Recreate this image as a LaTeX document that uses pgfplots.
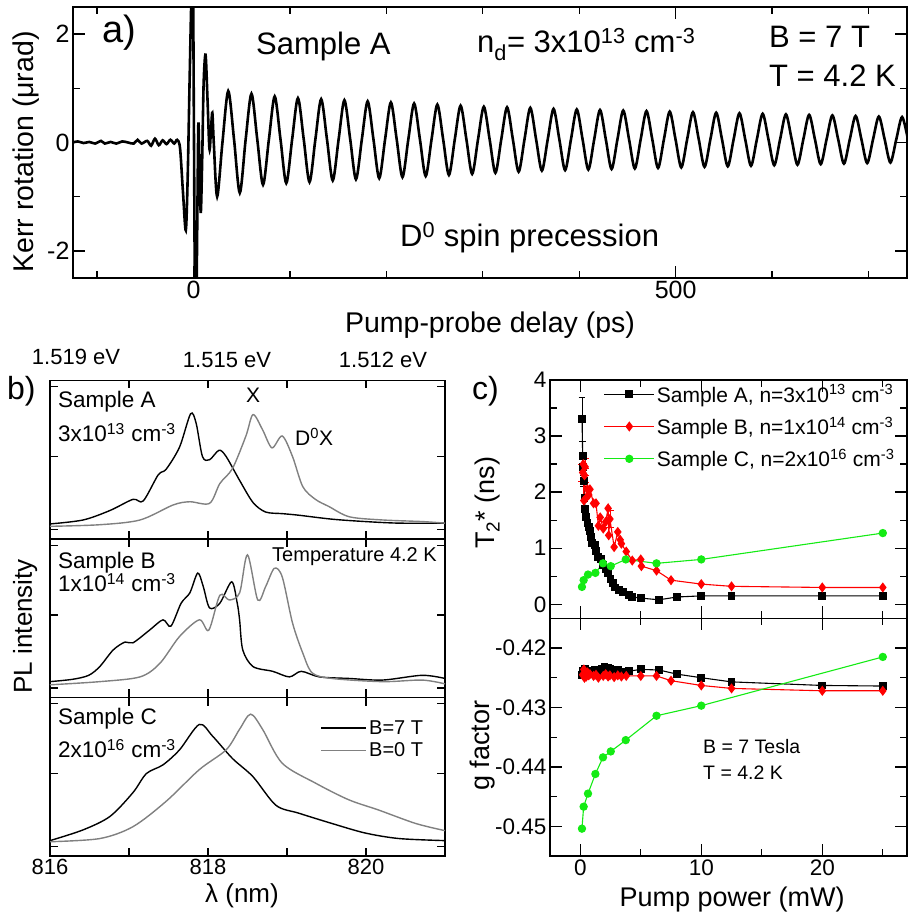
\documentclass[border=0pt]{standalone}
\usepackage{pgfplots}
\pgfplotsset{compat=1.18}
\usepackage{fontspec}
\setmainfont{Liberation Sans}
\newcommand{\fs}[1]{\fontsize{#1}{#1}\selectfont}
\definecolor{pgray}{RGB}{128,128,128}
\definecolor{pgreen}{RGB}{20,235,20}
\pgfplotsset{
  every axis/.append style={
    scale only axis,
    axis line style={line width=1.5pt},
    major tick style={line width=1.3pt,black},
    minor tick style={line width=1.3pt,black},
    major tick length=12pt, minor tick length=7pt,
    /pgf/number format/assume math mode=true,
    scaled ticks=false,
  },
}
\begin{document}
\begin{tikzpicture}
\useasboundingbox (0pt,0pt) rectangle (908pt,918pt);

% ---------- a) Kerr rotation
\begin{axis}[at={(73pt,640pt)}, anchor=south west, width=834pt, height=271pt,
  xmin=-125, xmax=740, ymin=-2.5, ymax=2.5,
  xtick={0,500}, minor xtick={-100,100,200,300,400,600,700},
  ytick={-2,0,2}, minor ytick={-1,1},
  tick label style={font=\fs{25}},
  xlabel={Pump-probe delay (ps)}, ylabel={Kerr rotation (μrad)},
  label style={font=\fs{28.5}},
  xlabel style={at={(axis description cs:0.5,-0.173)},anchor=center},
  ylabel style={at={(axis description cs:-0.056,0.465)},anchor=center},
]
\addplot[black, line width=2.6pt, smooth, tension=0.5] coordinates {
(-125,0.00)(-120,0.02)(-114,-0.01)(-108,0.01)(-102,-0.02)(-96,0.03)(-92,-0.02)(-86,0.01)
(-80,-0.02)(-74,0.02)(-68,0.00)(-62,-0.02)(-58,0.05)(-54,-0.02)(-48,0.03)(-44,-0.06)
(-40,0.07)(-36,-0.05)(-32,0.04)(-28,-0.03)(-24,0.05)(-20,-0.02)(-17,0.05)(-14,-0.1)
(-11,-0.9)(-8,-1.62)(-6,-0.6)(-4,1.2)(-2,2.8)(-0.5,2.8)(0.5,0)(1.5,-2.8)(3,-2.8)(4,-1.3)
(5,0.35)(6,-0.3)(7.5,-1.3)(9,-0.3)(10.5,1.1)(12.5,1.62)(14.5,0.8)(16.5,-0.12)(18,0.2)
(19.5,0.55)(21,0.0)(24.5,-1.0)(30,0.0)
(36,0.95)(42,0.06)(48,-0.93)(54.1,0.06)
(60.1,0.90)(66.1,0.06)(72.1,-0.78)(78.2,0.06)
(84.2,0.85)(90.2,0.06)(96.2,-0.75)(102.3,0.06)
(108.3,0.82)(114.3,0.06)(120.3,-0.73)(126.4,0.06)
(132.4,0.80)(138.4,0.06)(144.4,-0.70)(150.5,0.06)
(156.5,0.78)(162.5,0.06)(168.5,-0.68)(174.6,0.06)
(180.6,0.76)(186.6,0.06)(192.6,-0.66)(198.7,0.06)
(204.7,0.74)(210.7,0.06)(216.7,-0.64)(222.8,0.06)
(228.8,0.72)(234.8,0.06)(240.8,-0.62)(246.9,0.06)
(252.9,0.70)(258.9,0.06)(264.9,-0.60)(271.0,0.06)
(277.0,0.68)(283.0,0.06)(289.0,-0.58)(295.1,0.06)
(301.1,0.66)(307.1,0.06)(313.1,-0.56)(319.2,0.06)
(325.2,0.65)(331.2,0.06)(337.2,-0.54)(343.3,0.06)
(349.3,0.64)(355.3,0.06)(361.3,-0.52)(367.4,0.06)
(373.4,0.62)(379.4,0.06)(385.4,-0.51)(391.5,0.06)
(397.5,0.61)(403.5,0.06)(409.5,-0.50)(415.6,0.06)
(421.6,0.60)(427.6,0.06)(433.6,-0.49)(439.7,0.06)
(445.7,0.59)(451.7,0.06)(457.7,-0.48)(463.8,0.06)
(469.8,0.58)(475.8,0.06)(481.8,-0.47)(487.9,0.06)
(493.9,0.57)(499.9,0.06)(505.9,-0.46)(512.0,0.06)
(518.0,0.56)(524.0,0.06)(530.0,-0.45)(536.1,0.06)
(542.1,0.55)(548.1,0.06)(554.1,-0.44)(560.2,0.06)
(566.2,0.54)(572.2,0.06)(578.2,-0.43)(584.3,0.06)
(590.3,0.53)(596.3,0.06)(602.3,-0.42)(608.4,0.06)
(614.4,0.52)(620.4,0.06)(626.4,-0.41)(632.5,0.06)
(638.5,0.51)(644.5,0.06)(650.5,-0.40)(656.6,0.06)
(662.6,0.50)(668.6,0.06)(674.6,-0.39)(680.7,0.06)
(686.7,0.49)(692.7,0.06)(698.7,-0.38)(704.8,0.06)
(710.8,0.48)(716.8,0.06)(722.8,-0.37)(728.9,0.06)
(734.9,0.47)(740.9,0.06)
};
\end{axis}

% ---------- b) PL spectra
\pgfplotsset{pbstyle/.style={anchor=south west, width=395pt, height=158.5pt,
  xmin=816, xmax=821, ymin=0, ymax=1, xtick={816,817,818,819,820,821},
  xticklabel=\empty, ytick={0.06,0.52,0.96}, yticklabel=\empty,
  major tick length=8pt, tick label style={font=\fs{22}}}}
\begin{axis}[pbstyle, at={(50pt,379pt)}]
\addplot[black, line width=1.4pt, smooth] coordinates {
(816.00,0.095)(816.42,0.12)(816.76,0.18)(817.05,0.25)(817.18,0.24)(817.37,0.405)(817.47,0.44)
(817.64,0.58)(817.78,0.79)(817.85,0.73)(817.93,0.52)(818.02,0.50)(818.14,0.56)(818.23,0.52)
(818.40,0.37)(818.57,0.23)(818.73,0.17)(818.94,0.16)(819.15,0.15)(819.57,0.125)(819.99,0.11)
(820.42,0.10)(821.00,0.10)};
\addplot[pgray, line width=1.4pt, smooth] coordinates {
(816.00,0.08)(816.63,0.09)(817.14,0.12)(817.56,0.215)(817.77,0.235)(818.02,0.225)(818.15,0.35)
(818.31,0.445)(818.48,0.65)(818.57,0.785)(818.69,0.69)(818.81,0.575)(818.94,0.65)(819.07,0.52)
(819.20,0.33)(819.36,0.25)(819.53,0.205)(819.79,0.14)(820.21,0.12)(820.71,0.11)(821.00,0.10)};
\end{axis}
\begin{axis}[pbstyle, at={(50pt,220.5pt)},
  ylabel={PL intensity}, label style={font=\fs{26}},
  ylabel style={at={(axis description cs:-0.063,0.45)},anchor=center}]
\addplot[black, line width=1.4pt, smooth] coordinates {
(816.00,0.10)(816.29,0.115)(816.49,0.14)(816.63,0.195)(816.80,0.30)(816.95,0.35)(817.05,0.345)
(817.26,0.425)(817.43,0.49)(817.53,0.45)(817.66,0.595)(817.77,0.66)(817.87,0.785)(817.94,0.70)
(818.02,0.565)(818.15,0.595)(818.30,0.73)(818.37,0.595)(818.40,0.49)(818.44,0.30)(818.57,0.195)
(818.82,0.165)(819.03,0.13)(819.18,0.165)(819.41,0.13)(819.79,0.12)(820.21,0.11)(820.71,0.14)
(821.00,0.12)};
\addplot[pgray, line width=1.4pt, smooth] coordinates {
(816.00,0.08)(816.63,0.10)(817.14,0.13)(817.39,0.215)(817.64,0.385)(817.89,0.49)(818.01,0.425)
(818.15,0.645)(818.27,0.615)(818.40,0.66)(818.50,0.90)(818.63,0.615)(818.73,0.70)(818.84,0.815)
(818.94,0.76)(819.07,0.47)(819.20,0.28)(819.32,0.155)(819.57,0.12)(820.21,0.10)(820.71,0.11)
(821.00,0.086)};
\end{axis}
\begin{axis}[pbstyle, at={(50pt,62pt)},
  xticklabels={816,,818,,820,},
  xlabel={λ (nm)}, label style={font=\fs{26}},
  xlabel style={at={(axis description cs:0.486,-0.252)},anchor=center},
  legend style={at={(axis description cs:0.685,0.87)}, anchor=north west,
    draw=none, fill=none, font=\fs{20}, row sep=3pt, inner sep=0pt},
  legend cell align=left,
  legend image code/.code={\draw[#1] (0pt,0pt) -- (45pt,0pt);}]
\addplot[black, line width=1.4pt, smooth] coordinates {
(816.00,0.097)(816.42,0.165)(816.76,0.25)(817.05,0.40)(817.22,0.52)(817.43,0.575)(817.64,0.67)
(817.89,0.83)(818.06,0.755)(818.31,0.615)(818.57,0.50)(818.86,0.32)(819.15,0.27)(819.57,0.205)
(819.99,0.145)(820.42,0.11)(821.00,0.097)};
\addlegendentry{B=7 T}
\addplot[pgray, line width=1.4pt, smooth] coordinates {
(816.00,0.09)(816.63,0.11)(817.05,0.185)(817.47,0.345)(817.89,0.545)(818.23,0.67)(818.40,0.80)
(818.54,0.895)(818.69,0.80)(818.94,0.585)(819.36,0.46)(819.78,0.355)(820.16,0.29)(820.63,0.205)
(821.00,0.16)};
\addlegendentry{B=0 T}
\end{axis}

% ---------- c) T2* and g factor
\begin{axis}[at={(550pt,299.7pt)}, anchor=south west, width=357pt, height=238.3pt,
  xmin=-2.5, xmax=27, ymin=-0.25, ymax=4,
  xtick={0,10,20}, minor xtick={5,15,25}, xticklabel=\empty,
  ytick={0,1,2,3,4}, minor ytick={0.5,1.5,2.5,3.5},
  tick label style={font=\fs{22.5}},
  ylabel={T\textsubscript{2}* (ns)}, label style={font=\fs{27}},
  ylabel style={at={(axis description cs:-0.174,0.484)},anchor=center},
  legend style={at={(axis description cs:0.15,0.99)}, anchor=north west,
    draw=none, fill=none, font=\fs{21}, row sep=9pt, inner sep=0pt},
  legend cell align=left,
  legend image code/.code={\draw[mark repeat=2,mark phase=2,#1] plot coordinates {(0pt,0pt) (25pt,0pt) (50pt,0pt)};}]
\addplot[black, line width=1.1pt, mark=square*, mark size=3.4pt,
  error bars/.cd, y dir=both, y explicit] coordinates {
(0.15,3.3) +- (0,0.4) (0.2,2.65) +- (0,0.25) (0.25,2.45) +- (0,0.15) (0.3,2.2) +- (0,0.1)
(0.35,1.9) (0.4,1.7) (0.5,1.55) (0.6,1.45) (0.7,1.38) (0.8,1.3) (0.9,1.2) (1.0,1.1) (1.2,1.05)
(1.3,0.95) (1.5,0.85) (1.7,0.8) (1.9,0.7) (2.1,0.63) (2.3,0.55) (2.5,0.45) (2.7,0.38) (2.9,0.3)
(3.2,0.25) (3.5,0.22) (4.0,0.17) (4.3,0.13) (5.0,0.11) (6.5,0.08) (8.0,0.13) (10,0.15)
(12.5,0.15) (20,0.15) (25,0.15)};
\addlegendentry{Sample A, n=3x10\textsuperscript{13} cm\textsuperscript{-3}}
\addplot[red, line width=1.1pt, mark=diamond*, mark size=4.2pt,
  error bars/.cd, y dir=both, y explicit] coordinates {
(0.2,2.35) +- (0,0.15) (0.25,2.5) +- (0,0.1) (0.3,1.85) (0.35,2.3) +- (0,0.12) (0.4,2.45) +- (0,0.15)
(0.5,1.9) (0.6,2.05) (0.7,1.95) (0.8,2.05) (1.1,1.8) (1.3,1.8) (1.5,1.4) (1.65,1.55) (1.9,1.35)
(2.1,1.47) (2.3,1.71) (2.35,1.23) (2.45,1.52) +- (0,0.15) (2.8,1.02) (3.1,1.29) (3.3,1.15) (3.4,1.08)
(3.8,0.94) (4.3,0.78) (5.0,0.8) (5.05,0.68) (6.3,0.6) (7.5,0.43) (10,0.36) (12.5,0.32) (20,0.3)
(25,0.3)};
\addlegendentry{Sample B, n=1x10\textsuperscript{14} cm\textsuperscript{-3}}
\addplot[pgreen, line width=1.1pt, mark=*, mark size=3.6pt] coordinates {
(0.14,0.31)(0.28,0.43)(0.64,0.53)(1.25,0.56)(1.88,0.73)(2.52,0.68)(3.76,0.8)(6.3,0.73)(10,0.8)(25,1.27)};
\addlegendentry{Sample C, n=2x10\textsuperscript{16} cm\textsuperscript{-3}}
\end{axis}
\begin{axis}[at={(550pt,62pt)}, anchor=south west, width=357pt, height=237.7pt,
  xmin=-2.5, xmax=27, ymin=-0.455, ymax=-0.415,
  xtick={0,10,20}, minor xtick={5,15,25},
  ytick={-0.45,-0.44,-0.43,-0.42}, minor ytick={-0.445,-0.435,-0.425},
  yticklabel style={/pgf/number format/fixed,/pgf/number format/precision=2},
  tick label style={font=\fs{22.5}},
  xlabel={Pump power (mW)}, ylabel={g factor}, label style={font=\fs{27}},
  xlabel style={at={(axis description cs:0.51,-0.185)},anchor=center},
  ylabel style={at={(axis description cs:-0.188,0.463)},anchor=center}]
\addplot[black, line width=1.1pt, mark=square*, mark size=3.4pt] coordinates {
(0.15,-0.4245)(0.2,-0.4238)(0.3,-0.4242)(0.4,-0.4236)(0.5,-0.4244)(0.6,-0.424)(0.8,-0.4238)
(1.0,-0.4242)(1.2,-0.4237)(1.5,-0.424)(1.8,-0.4235)(2.0,-0.4232)(2.3,-0.4233)(2.5,-0.4236)
(2.8,-0.4238)(3.1,-0.4237)(3.5,-0.424)(4.0,-0.4239)(5,-0.4236)(6.5,-0.4237)(8,-0.4244)
(10,-0.425)(12.5,-0.4257)(20,-0.4263)(25,-0.4264)};
\addplot[red, line width=1.1pt, mark=diamond*, mark size=4.2pt] coordinates {
(0.2,-0.4245)(0.3,-0.4236)(0.35,-0.425)(0.45,-0.4243)(0.5,-0.4248)(0.6,-0.4241)(0.7,-0.4246)
(0.8,-0.4244)(1.1,-0.4247)(1.3,-0.4245)(1.5,-0.425)(1.9,-0.4247)(2.1,-0.4244)(2.3,-0.4248)
(2.45,-0.4246)(2.8,-0.4249)(3.1,-0.4246)(3.4,-0.4248)(3.8,-0.4247)(5.0,-0.4247)(6.3,-0.4247)
(7.5,-0.4255)(10,-0.4263)(12.5,-0.4268)(20,-0.4272)(25,-0.4272)};
\addplot[pgreen, line width=1.1pt, mark=*, mark size=3.6pt] coordinates {
(0.14,-0.4504)(0.28,-0.4467)(0.64,-0.4445)(1.25,-0.4412)(1.88,-0.4384)(2.52,-0.4374)
(3.76,-0.4355)(6.3,-0.4314)(10,-0.4297)(25,-0.4215)};
\end{axis}

% ---------- annotations
\node[anchor=base west, inner sep=0pt, font=\fs{38}] at (102pt,875pt) {a)};
\node[anchor=base west, inner sep=0pt, font=\fs{31}] at (256pt,863pt) {Sample A};
\node[anchor=base west, inner sep=0pt, font=\fs{31}] at (477pt,865pt) {n\textsubscript{d}= 3x10\textsuperscript{13} cm\textsuperscript{-3}};
\node[anchor=base west, inner sep=0pt, font=\fs{31}] at (769pt,870pt) {B = 7 T};
\node[anchor=base west, inner sep=0pt, font=\fs{31}] at (769pt,831pt) {T = 4.2 K};
\node[anchor=base west, inner sep=0pt, font=\fs{31}] at (400pt,671pt) {D\textsuperscript{0} spin precession};

\node[font=\fs{22}] at (76pt,561pt) {1.519 eV};
\node[font=\fs{22}] at (227pt,558pt) {1.515 eV};
\node[font=\fs{22}] at (383pt,558pt) {1.512 eV};
\node[anchor=base west, inner sep=0pt, font=\fs{32}] at (7pt,518pt) {b)};
\node[anchor=base west, inner sep=0pt, font=\fs{22.5}] at (58pt,510pt) {Sample A};
\node[anchor=base west, inner sep=0pt, font=\fs{22.5}] at (58pt,476pt) {3x10\textsuperscript{13} cm\textsuperscript{-3}};
\node[anchor=base, inner sep=0pt, font=\fs{21}] at (253pt,515pt) {X};
\node[anchor=base west, inner sep=0pt, font=\fs{21}] at (295pt,472pt) {D\textsuperscript{0}X};
\node[anchor=base west, inner sep=0pt, font=\fs{22.5}] at (58pt,349pt) {Sample B};
\node[anchor=base west, inner sep=0pt, font=\fs{22.5}] at (58pt,326pt) {1x10\textsuperscript{14} cm\textsuperscript{-3}};
\node[anchor=base west, inner sep=0pt, font=\fs{20}] at (272pt,356pt) {Temperature 4.2 K};
\node[anchor=base west, inner sep=0pt, font=\fs{22.5}] at (58pt,193pt) {Sample C};
\node[anchor=base west, inner sep=0pt, font=\fs{22.5}] at (58pt,160pt) {2x10\textsuperscript{16} cm\textsuperscript{-3}};

\node[anchor=base west, inner sep=0pt, font=\fs{32}] at (472pt,518pt) {c)};
\node[anchor=base west, inner sep=0pt, font=\fs{19.5}] at (703pt,164pt) {B = 7 Tesla};
\node[anchor=base west, inner sep=0pt, font=\fs{19.5}] at (703pt,138pt) {T = 4.2 K};
\end{tikzpicture}
\end{document}
